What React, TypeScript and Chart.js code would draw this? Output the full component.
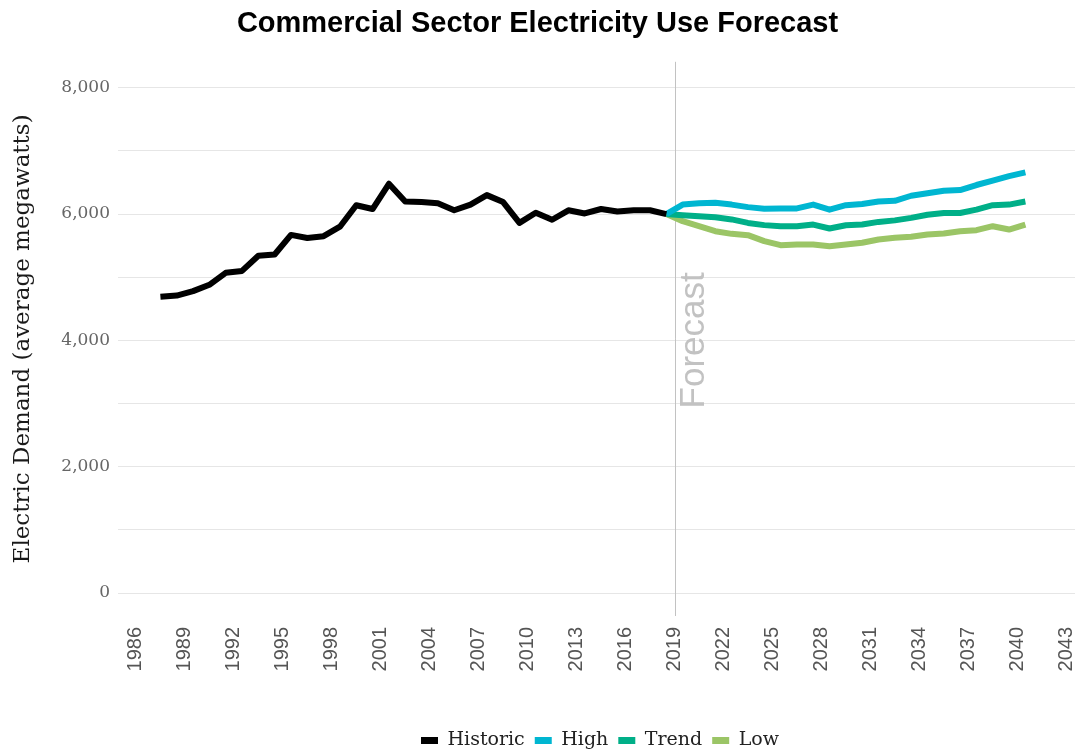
import React, { useEffect, useRef } from 'react';
import { Chart, registerables } from 'chart.js';

Chart.register(...registerables);

const TITLE = 'Commercial Sector Electricity Use Forecast';
const Y_TITLE = 'Electric Demand (average megawatts)';
const FORECAST_LABEL = 'Forecast';

// Annual values, plotted at mid-year
const MID_YEAR = 0.5;
const historicYears = [
  1987, 1988, 1989, 1990, 1991, 1992, 1993, 1994, 1995, 1996, 1997, 1998, 1999, 2000, 2001, 2002,
  2003, 2004, 2005, 2006, 2007, 2008, 2009, 2010, 2011, 2012, 2013, 2014, 2015, 2016, 2017, 2018,
];
const historicValues = [
  4690, 4710, 4780, 4880, 5070, 5100, 5340, 5360, 5670, 5620, 5650, 5800, 6140, 6080, 6480, 6200,
  6190, 6170, 6060, 6150, 6300, 6190, 5860, 6020, 5910, 6060, 6010, 6080, 6040, 6060, 6060, 6000,
];
const forecastYears = [
  2018, 2019, 2020, 2021, 2022, 2023, 2024, 2025, 2026, 2027, 2028, 2029, 2030, 2031, 2032, 2033,
  2034, 2035, 2036, 2037, 2038, 2039, 2040,
];
const highValues = [
  6000, 6150, 6170, 6180, 6150, 6110, 6085, 6090, 6090, 6150, 6070, 6140, 6160, 6200, 6210, 6290,
  6330, 6370, 6380, 6460, 6530, 6600, 6660,
];
const trendValues = [
  6000, 5980, 5965, 5950, 5915, 5860, 5825, 5808, 5808, 5834, 5771, 5823, 5834, 5876, 5900, 5940,
  5990, 6018, 6018, 6070, 6140, 6150, 6200,
];
const lowValues = [
  6000, 5887, 5808, 5729, 5687, 5666, 5571, 5508, 5518, 5518, 5492, 5518, 5545, 5597, 5624, 5640,
  5676, 5692, 5729, 5745, 5808, 5755, 5834,
];

const xTickYears = [1986, 1989, 1992, 1995, 1998, 2001, 2004, 2007, 2010, 2013, 2016, 2019, 2022, 2025, 2028, 2031, 2034, 2037, 2040, 2043];
const yTickValues = [0, 1000, 2000, 3000, 4000, 5000, 6000, 7000, 8000];
const FORECAST_START = 2019;
const FORECAST_LABEL_CENTER = 4000;

const X_MIN = 1985.33;
const X_MAX = 2043.54;
const Y_MIN = -364;
const Y_MAX = 8411;

const COLORS = {
  historic: '#000000',
  high: '#00B6D1',
  trend: '#00AF88',
  low: '#9BC566',
};

const SLAB = '"DejaVu Serif", serif';
const SANS = '"Liberation Sans", Arial, sans-serif';

const toPoints = (years: number[], values: number[]) =>
  years.map((yr, i) => ({ x: yr + MID_YEAR, y: values[i] }));

const forecastPlugin = {
  id: 'forecastMarker',
  beforeDatasetsDraw(chart: any) {
    const { ctx, chartArea, scales } = chart;
    const px = Math.round(scales.x.getPixelForValue(FORECAST_START)) + 0.5;
    ctx.save();
    ctx.strokeStyle = '#c2c2c2';
    ctx.lineWidth = 1;
    ctx.beginPath();
    ctx.moveTo(px, chartArea.top);
    ctx.lineTo(px, chartArea.bottom);
    ctx.stroke();
    ctx.translate(px + 28, scales.y.getPixelForValue(FORECAST_LABEL_CENTER));
    ctx.rotate(-Math.PI / 2);
    ctx.font = `35px ${SANS}`;
    ctx.fillStyle = '#c2c2c2';
    ctx.textAlign = 'center';
    ctx.textBaseline = 'alphabetic';
    ctx.fillText(FORECAST_LABEL, 0, 0);
    ctx.restore();
  },
};

const legendShiftPlugin = {
  id: 'legendShift',
  afterLayout(chart: any) {
    const lg = chart.legend;
    if (lg) {
      const h = lg.height;
      lg.top = chart.height - h + 8;
      lg.bottom = lg.top + h;
    }
  },
};

export default function App() {
  const canvasRef = useRef<HTMLCanvasElement | null>(null);

  useEffect(() => {
    if (!canvasRef.current) return;
    const mk = (label: string, color: string, pts: any[]) => ({
      label,
      data: pts,
      borderColor: color,
      backgroundColor: color,
      borderWidth: 6,
      pointRadius: 0,
      pointHoverRadius: 0,
      tension: 0,
      borderJoinStyle: 'round' as const,
      borderCapStyle: 'butt' as const,
      fill: false,
    });
    const chart = new Chart(canvasRef.current, {
      type: 'line',
      data: {
        datasets: [
          mk('Historic', COLORS.historic, toPoints(historicYears, historicValues)),
          mk('High', COLORS.high, toPoints(forecastYears, highValues)),
          mk('Trend', COLORS.trend, toPoints(forecastYears, trendValues)),
          mk('Low', COLORS.low, toPoints(forecastYears, lowValues)),
        ],
      },
      options: {
        animation: false,
        responsive: true,
        maintainAspectRatio: false,
        layout: { padding: { left: 0, right: 3, top: 0, bottom: 0 } },
        plugins: {
          title: {
            display: true,
            text: TITLE,
            color: '#000',
            font: { family: SANS, size: 29, weight: 'bold' },
            padding: { top: 7, bottom: 20 },
          },
          legend: {
            position: 'bottom',
            fullSize: false,
            labels: {
              boxWidth: 17,
              boxHeight: 7,
              padding: 10,
              color: '#222',
              font: { family: SLAB, size: 19 },
              generateLabels: (chart: any) =>
                (Chart as any).defaults.plugins.legend.labels
                  .generateLabels(chart)
                  .map((l: any) => ({ ...l, lineWidth: 0 })),
            },
          },
          tooltip: { enabled: false },
        },
        scales: {
          x: {
            type: 'linear',
            min: X_MIN,
            max: X_MAX,
            grid: { display: false, drawTicks: false },
            border: { display: false },
            afterBuildTicks: (scale: any) => {
              scale.ticks = xTickYears.map((v) => ({ value: v }));
            },
            afterFit: (scale: any) => {
              scale.height = 97;
              scale.paddingLeft = 0;
              scale.paddingRight = 0;
            },
            ticks: {
              autoSkip: false,
              minRotation: 90,
              maxRotation: 90,
              padding: 11,
              color: '#555',
              font: { family: SANS, size: 20 },
              callback: (v: any) => String(v),
            },
          },
          y: {
            type: 'linear',
            min: Y_MIN,
            max: Y_MAX,
            afterBuildTicks: (scale: any) => {
              scale.ticks = yTickValues.map((v) => ({ value: v }));
            },
            afterFit: (scale: any) => {
              scale.width = 125;
              scale.paddingTop = 0;
              scale.paddingBottom = 0;
            },
            grid: { color: '#e6e6e6', lineWidth: 1, tickLength: 7, drawTicks: true },
            border: { display: false },
            ticks: {
              autoSkip: false,
              padding: 8,
              color: '#666',
              font: { family: SLAB, size: 17 },
              callback: (v: any) => (Number(v) % 2000 === 0 ? Number(v).toLocaleString('en-US') : ''),
            },
            title: {
              display: true,
              text: Y_TITLE,
              color: '#1a1a1a',
              font: { family: SLAB, size: 23 },
              padding: { top: 9, bottom: 0 },
            },
          },
        },
      },
      plugins: [forecastPlugin, legendShiftPlugin],
    } as any);
    return () => chart.destroy();
  }, []);

  return (
    <div style={{ position: 'fixed', left: 0, top: 0, width: 1078, height: 752, background: '#fff' }}>
      <canvas ref={canvasRef} />
    </div>
  );
}
